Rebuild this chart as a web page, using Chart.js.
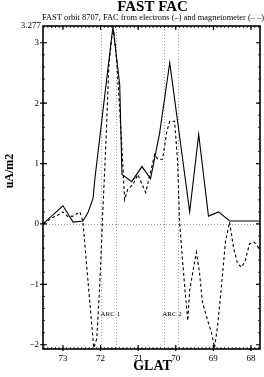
<!DOCTYPE html>
<html>
<head>
<meta charset="utf-8">
<script src="https://cdn.jsdelivr.net/npm/chart.js@4/dist/chart.umd.min.js"></script>
<style>
  html, body { margin: 0; padding: 0; background: #fff; }
  #wrap { width: 264px; height: 377px; }
</style>
</head>
<body>
<div id="wrap"><canvas id="facChart" width="264" height="377"></canvas></div>
<script>
// FAST orbit 8707 の FAC データ
const glatElectrons = [73.53, 73.0, 72.73, 72.47, 72.34, 72.2, 72.15, 71.67, 71.49, 71.43, 71.17, 70.9, 70.67, 70.43, 70.16, 69.63, 69.39, 69.13, 68.86, 68.57, 67.77];
const facElectrons  = [0.0, 0.3, 0.03, 0.05, 0.18, 0.42, 0.75, 3.27, 2.3, 0.82, 0.7, 0.95, 0.75, 1.5, 2.67, 0.2, 1.48, 0.13, 0.2, 0.05, 0.05];

const glatMagnetometer = [73.53, 73.29, 73.13, 73.0, 72.87, 72.73, 72.55, 72.47, 72.34, 72.23, 72.18, 72.1, 72.02, 71.94, 71.86, 71.78, 71.7, 71.65, 71.57, 71.49, 71.41, 71.36, 71.28, 71.14, 71.01, 70.8, 70.56, 70.48, 70.35, 70.24, 70.16, 70.03, 69.95, 69.9, 69.82, 69.74, 69.68, 69.63, 69.52, 69.45, 69.37, 69.29, 69.15, 69.05, 68.97, 68.89, 68.78, 68.68, 68.57, 68.46, 68.36, 68.25, 68.15, 68.04, 67.91, 67.77];
const facMagnetometer  = [0.0, 0.1, 0.15, 0.2, 0.12, 0.13, 0.2, 0.05, -0.9, -1.7, -2.05, -1.9, -1.0, 0.2, 1.3, 2.6, 3.1, 3.2, 2.7, 1.9, 1.0, 0.4, 0.57, 0.65, 0.82, 0.52, 1.15, 1.07, 1.07, 1.52, 1.7, 1.7, 1.02, 0.05, -0.6, -1.2, -1.6, -1.1, -0.7, -0.47, -0.8, -1.3, -1.6, -1.8, -2.05, -1.7, -1.0, -0.3, 0.03, -0.4, -0.65, -0.72, -0.6, -0.33, -0.3, -0.42];

// 目盛り
const yTicks = [-2, -1, 0, 1, 2, 3];
const yTopLabel = 3.277;
const xTicks = [73, 72, 71, 70, 69, 68];

// ARC の縦線とラベル
const arcLines = [72.0, 71.6, 70.3, 69.95];
const arcLabels = ['ARC 1', 'ARC 2'];
const arcLabelGlat = [72.0, 70.36];

const titleText = 'FAST FAC';
const subtitleText = 'FAST orbit 8707, FAC from electrons (\u2013) and magnetometer (\u2013 \u2013)';

function toPoints(xs, ys) {
  return xs.map((x, i) => ({ x: x, y: ys[i] }));
}

// 枠・目盛り・文字を描くプラグイン
const framePlugin = {
  id: 'frame',
  beforeDatasetsDraw(chart) {
    const { ctx, chartArea: a, scales: { x, y } } = chart;
    ctx.save();
    ctx.strokeStyle = '#888';
    ctx.lineWidth = 0.8;
    ctx.setLineDash([1, 2]);
    arcLines.forEach(g => {
      const px = Math.round(x.getPixelForValue(g)) + 0.5;
      ctx.beginPath();
      ctx.moveTo(px, a.top);
      ctx.lineTo(px, a.bottom);
      ctx.stroke();
    });
    const y0 = Math.round(y.getPixelForValue(0)) + 0.5;
    ctx.beginPath();
    ctx.moveTo(a.left, y0);
    ctx.lineTo(a.right, y0);
    ctx.stroke();
    ctx.restore();
  },
  afterDatasetsDraw(chart) {
    const { ctx, chartArea: a, scales: { x, y } } = chart;
    ctx.save();
    ctx.strokeStyle = '#000';
    ctx.fillStyle = '#000';

    // 枠
    ctx.lineWidth = 1.6;
    ctx.strokeRect(a.left, a.top, a.right - a.left, a.bottom - a.top);

    // 小目盛り
    ctx.lineWidth = 0.8;
    ctx.beginPath();
    for (let v = -2; v <= 3.2; v += 0.2) {
      const py = y.getPixelForValue(v);
      ctx.moveTo(a.left, py); ctx.lineTo(a.left + 2, py);
      ctx.moveTo(a.right, py); ctx.lineTo(a.right - 2, py);
    }
    for (let g = 67.8; g <= 73.5; g += 0.1) {
      const px = x.getPixelForValue(g);
      ctx.moveTo(px, a.bottom); ctx.lineTo(px, a.bottom - 2);
      ctx.moveTo(px, a.top); ctx.lineTo(px, a.top + 2);
    }
    ctx.stroke();

    // 大目盛り
    ctx.lineWidth = 1.2;
    ctx.beginPath();
    yTicks.forEach(v => {
      const py = y.getPixelForValue(v);
      ctx.moveTo(a.left - 3, py); ctx.lineTo(a.left + 4, py);
      ctx.moveTo(a.right, py); ctx.lineTo(a.right - 4, py);
    });
    xTicks.forEach(g => {
      const px = x.getPixelForValue(g);
      ctx.moveTo(px, a.bottom + 2); ctx.lineTo(px, a.bottom - 4);
      ctx.moveTo(px, a.top); ctx.lineTo(px, a.top + 4);
    });
    ctx.stroke();

    // 目盛りラベル
    ctx.font = '9px "Liberation Serif", serif';
    ctx.textAlign = 'right';
    ctx.textBaseline = 'middle';
    yTicks.forEach(v => {
      const label = v < 0 ? '\u2212' + Math.abs(v) : String(v);
      ctx.fillText(label, a.left - 4, y.getPixelForValue(v));
    });
    ctx.fillText(String(yTopLabel), a.left - 2, y.getPixelForValue(yTopLabel));
    ctx.textAlign = 'center';
    ctx.textBaseline = 'top';
    xTicks.forEach(g => {
      ctx.fillText(String(g), x.getPixelForValue(g), a.bottom + 5);
    });

    // ARC ラベル
    ctx.font = '7px "Liberation Serif", serif';
    ctx.textAlign = 'left';
    ctx.textBaseline = 'middle';
    arcLabels.forEach((t, i) => {
      ctx.fillText(t, x.getPixelForValue(arcLabelGlat[i]), y.getPixelForValue(-1.5));
    });

    // タイトル
    const cx = (a.left + a.right) / 2 + 1;
    ctx.textAlign = 'center';
    ctx.textBaseline = 'middle';
    ctx.font = 'bold 15px "Liberation Serif", serif';
    ctx.fillText(titleText, cx, 7);
    ctx.font = '8.5px "Liberation Serif", serif';
    ctx.textAlign = 'left';
    ctx.fillText(subtitleText, 42, 18, 222);

    // 軸タイトル
    ctx.font = 'bold 14px "Liberation Serif", serif';
    ctx.textAlign = 'center';
    ctx.fillText('GLAT', cx, 366);
    ctx.save();
    ctx.translate(10, 171);
    ctx.rotate(-Math.PI / 2);
    ctx.font = 'bold 12px "Liberation Serif", serif';
    ctx.fillText('uA/m2', 0, 0);
    ctx.restore();

    ctx.restore();
  }
};

const ctx = document.getElementById('facChart');
const facChart = new Chart(ctx, {
  type: 'scatter',
  data: {
    datasets: [{
      label: 'electrons',
      data: toPoints(glatElectrons, facElectrons),
      showLine: true,
      borderColor: '#000',
      borderWidth: 1.1,
      pointRadius: 0,
      tension: 0
    }, {
      label: 'magnetometer',
      data: toPoints(glatMagnetometer, facMagnetometer),
      showLine: true,
      borderColor: '#000',
      borderWidth: 1.1,
      borderDash: [3, 2.5],
      pointRadius: 0,
      tension: 0
    }]
  },
  options: {
    responsive: false,
    animation: false,
    events: [],
    layout: {
      padding: { left: 43, right: 4, top: 26, bottom: 28 }
    },
    plugins: {
      legend: { display: false },
      tooltip: { enabled: false },
      title: { display: false }
    },
    scales: {
      x: {
        type: 'linear',
        display: false,
        reverse: true,
        min: 67.76,
        max: 73.53
      },
      y: {
        type: 'linear',
        display: false,
        min: -2.07,
        max: 3.277
      }
    }
  },
  plugins: [framePlugin]
});
</script>
</body>
</html>
